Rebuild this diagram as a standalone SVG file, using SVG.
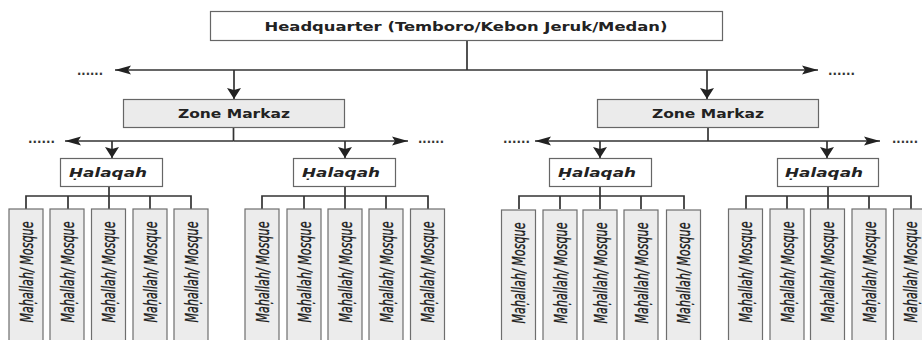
<svg xmlns="http://www.w3.org/2000/svg" width="922" height="340" viewBox="0 0 922 340">
<style>
.box{fill:#ffffff;stroke:#666666;stroke-width:1.2}
.zone{fill:#ebebeb;stroke:#666666;stroke-width:1.2}
.mb{fill:#ececec;stroke:#6e6e6e;stroke-width:1.2}
.ln{fill:none;stroke:#333333;stroke-width:1.7}
.t{font-family:"DejaVu Sans","Verdana",sans-serif;font-size:12.5px;font-weight:bold;fill:#222222;text-anchor:middle}
.ti{font-style:italic}
.m{font-family:"DejaVu Sans","Verdana",sans-serif;font-size:13px;font-style:italic;fill:#1a1a1a;stroke:#1a1a1a;stroke-width:0.25;text-anchor:middle}
.dots{font-family:"DejaVu Sans",sans-serif;font-size:12px;font-weight:bold;fill:#333333}
</style>
<defs>
<marker id="ah" markerUnits="userSpaceOnUse" markerWidth="18" markerHeight="12" refX="16" refY="6" orient="auto-start-reverse">
<path d="M16,6 L0,1.5 L3,6 L0,10.5 Z" fill="#222222"/>
</marker>
<marker id="av" markerUnits="userSpaceOnUse" markerWidth="12" markerHeight="16" refX="11" refY="7" orient="auto">
<path d="M11,7 L0,0 L2,7 L0,14 Z" fill="#222222"/>
</marker>
<g id="mah">
<rect class="mb" x="-17" y="0" width="34" height="136"/>
<text class="m" transform="translate(0,63) rotate(-90) scale(1,1.3)" x="0" y="5" textLength="101" lengthAdjust="spacingAndGlyphs">Maḥallah/ Mosque</text>
</g>
</defs>

<g id="connectors">
<path class="ln" d="M467,41 V70"/>
<path class="ln" d="M467,70 H115" marker-end="url(#ah)"/>
<path class="ln" d="M467,70 H818" marker-end="url(#ah)"/>
<path class="ln" d="M234,70 V99" marker-end="url(#av)"/>
<path class="ln" d="M707,70 V99" marker-end="url(#av)"/>
<path class="ln" d="M233.5,128 V141"/>
<path class="ln" d="M233.5,141 H65" marker-end="url(#ah)"/>
<path class="ln" d="M233.5,141 H408" marker-end="url(#ah)"/>
<path class="ln" d="M112,141 V158" marker-end="url(#av)"/>
<path class="ln" d="M345,141 V158" marker-end="url(#av)"/>
<path class="ln" d="M708,128 V141"/>
<path class="ln" d="M708,141 H535" marker-end="url(#ah)"/>
<path class="ln" d="M708,141 H880" marker-end="url(#ah)"/>
<path class="ln" d="M600,141 V158" marker-end="url(#av)"/>
<path class="ln" d="M827,141 V158" marker-end="url(#av)"/>
<path class="ln" d="M109,187 V209 M26,209 V196 H191 V209 M68,196 V209 M150,196 V209"/>
<path class="ln" d="M345,187 V209 M262,209 V196 H428 V209 M304,196 V209 M386,196 V209"/>
<path class="ln" d="M600,187 V209 M519,209 V196 H684 V209 M560,196 V209 M641,196 V209"/>
<path class="ln" d="M828,187 V209 M746,209 V196 H911 V209 M787,196 V209 M869,196 V209"/>
</g>

<g id="dots">
<text class="dots" x="77" y="75" textLength="26" lengthAdjust="spacingAndGlyphs">......</text>
<text class="dots" x="828" y="75" textLength="27" lengthAdjust="spacingAndGlyphs">......</text>
<text class="dots" x="28" y="143" textLength="27" lengthAdjust="spacingAndGlyphs">......</text>
<text class="dots" x="418" y="143" textLength="26" lengthAdjust="spacingAndGlyphs">......</text>
<text class="dots" x="503" y="143" textLength="27" lengthAdjust="spacingAndGlyphs">......</text>
<text class="dots" x="892" y="143" textLength="26" lengthAdjust="spacingAndGlyphs">......</text>
</g>

<g id="hq">
<rect class="box" x="210.5" y="11.5" width="512" height="29"/>
<text class="t" x="466" y="30.5" textLength="403" lengthAdjust="spacingAndGlyphs">Headquarter (Temboro/Kebon Jeruk/Medan)</text>
</g>

<g id="zone-left">
<rect class="zone" x="123.5" y="99.5" width="221" height="28"/>
<text class="t" x="234" y="118" textLength="112" lengthAdjust="spacingAndGlyphs">Zone Markaz</text>
</g>
<g id="zone-right">
<rect class="zone" x="597.5" y="99.5" width="221" height="28"/>
<text class="t" x="708" y="118" textLength="112" lengthAdjust="spacingAndGlyphs">Zone Markaz</text>
</g>

<g id="halaqah-1">
<rect class="box" x="60.5" y="158.5" width="102" height="28"/>
<text class="t ti" x="108" y="177" textLength="78" lengthAdjust="spacingAndGlyphs">Ḥalaqah</text>
</g>
<g id="halaqah-2">
<rect class="box" x="293.5" y="158.5" width="102" height="28"/>
<text class="t ti" x="341" y="177" textLength="78" lengthAdjust="spacingAndGlyphs">Ḥalaqah</text>
</g>
<g id="halaqah-3">
<rect class="box" x="549.5" y="158.5" width="102" height="28"/>
<text class="t ti" x="597" y="177" textLength="78" lengthAdjust="spacingAndGlyphs">Ḥalaqah</text>
</g>
<g id="halaqah-4">
<rect class="box" x="777.5" y="158.5" width="101" height="28"/>
<text class="t ti" x="824" y="177" textLength="78" lengthAdjust="spacingAndGlyphs">Ḥalaqah</text>
</g>

<g id="mahallah-1-1"><use href="#mah" x="26" y="209"/></g>
<g id="mahallah-1-2"><use href="#mah" x="67" y="209"/></g>
<g id="mahallah-1-3"><use href="#mah" x="108.5" y="209"/></g>
<g id="mahallah-1-4"><use href="#mah" x="150" y="209"/></g>
<g id="mahallah-1-5"><use href="#mah" x="191" y="209"/></g>

<g id="mahallah-2-1"><use href="#mah" x="262" y="209"/></g>
<g id="mahallah-2-2"><use href="#mah" x="304" y="209"/></g>
<g id="mahallah-2-3"><use href="#mah" x="345" y="209"/></g>
<g id="mahallah-2-4"><use href="#mah" x="386" y="209"/></g>
<g id="mahallah-2-5"><use href="#mah" x="427.5" y="209"/></g>

<g id="mahallah-3-1"><use href="#mah" x="518.5" y="210"/></g>
<g id="mahallah-3-2"><use href="#mah" x="560" y="210"/></g>
<g id="mahallah-3-3"><use href="#mah" x="600" y="210"/></g>
<g id="mahallah-3-4"><use href="#mah" x="641" y="210"/></g>
<g id="mahallah-3-5"><use href="#mah" x="683.5" y="210"/></g>

<g id="mahallah-4-1"><use href="#mah" x="745.5" y="209"/></g>
<g id="mahallah-4-2"><use href="#mah" x="787" y="209"/></g>
<g id="mahallah-4-3"><use href="#mah" x="827.5" y="209"/></g>
<g id="mahallah-4-4"><use href="#mah" x="869" y="209"/></g>
<g id="mahallah-4-5"><use href="#mah" x="910.5" y="209"/></g>
</svg>
